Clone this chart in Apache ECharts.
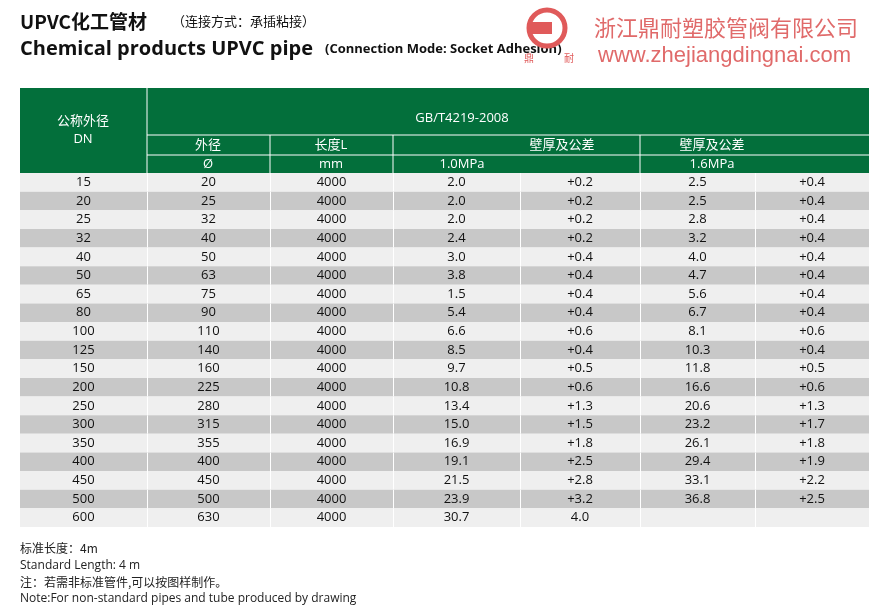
<!DOCTYPE html>
<html><head><meta charset="utf-8">
<script src="https://cdn.jsdelivr.net/npm/echarts@6/dist/echarts.min.js"></script>
<style>html,body{margin:0;padding:0;background:#fff}#c{width:882px;height:611px}</style>
</head><body><div id="c"></div>
<script>
const dn  = ['15','20','25','32','40','50','65','80','100','125','150','200','250','300','350','400','450','500','600'];
const od  = ['20','25','32','40','50','63','75','90','110','140','160','225','280','315','355','400','450','500','630'];
const len = ['4000','4000','4000','4000','4000','4000','4000','4000','4000','4000','4000','4000','4000','4000','4000','4000','4000','4000','4000'];
const wall10 = ['2.0','2.0','2.0','2.4','3.0','3.8','1.5','5.4','6.6','8.5','9.7','10.8','13.4','15.0','16.9','19.1','21.5','23.9','30.7'];
const tol10  = ['+0.2','+0.2','+0.2','+0.2','+0.4','+0.4','+0.4','+0.4','+0.6','+0.4','+0.5','+0.6','+1.3','+1.5','+1.8','+2.5','+2.8','+3.2','4.0'];
const wall16 = ['2.5','2.5','2.8','3.2','4.0','4.7','5.6','6.7','8.1','10.3','11.8','16.6','20.6','23.2','26.1','29.4','33.1','36.8',''];
const tol16  = ['+0.4','+0.4','+0.4','+0.4','+0.4','+0.4','+0.4','+0.4','+0.6','+0.4','+0.5','+0.6','+1.3','+1.7','+1.8','+1.9','+2.2','+2.5',''];

const edges = [0,127,250,373,500,620,735,849]; // column edges relative to table left
const cols = [dn,od,len,wall10,tol10,wall16,tol16];
const G='#036f3b', F='"Open Sans","Noto Sans","Noto Sans CJK SC",sans-serif';
const chart = echarts.init(document.getElementById('c'));
function ht(x,y,t,o){return Object.assign({type:'text',x:x,y:y,style:{text:t,fill:'#fff',font:'13px '+F,align:'center',verticalAlign:'middle'}},o||{});}
const L=20;
const gr=[
 {type:'rect',shape:{x:20,y:88,width:849,height:85},style:{fill:G}},
 {type:'line',shape:{x1:147,y1:88,x2:147,y2:173},style:{stroke:'#fff',lineWidth:1}},
 {type:'line',shape:{x1:147,y1:135,x2:869,y2:135},style:{stroke:'#fff',lineWidth:1}},
 {type:'line',shape:{x1:147,y1:155,x2:869,y2:155},style:{stroke:'#fff',lineWidth:1}},
 {type:'line',shape:{x1:270,y1:135,x2:270,y2:173},style:{stroke:'#fff',lineWidth:1}},
 {type:'line',shape:{x1:393,y1:135,x2:393,y2:173},style:{stroke:'#fff',lineWidth:1}},
 {type:'line',shape:{x1:640,y1:135,x2:640,y2:173},style:{stroke:'#fff',lineWidth:1}},
 ht(83,121,'公称外径'),ht(83,139,'DN'),ht(462,118,'GB/T4219-2008'),
 ht(208,145,'外径'),ht(331,145,'长度L'),ht(562,145,'壁厚及公差'),ht(712,145,'壁厚及公差'),
 ht(208,164,'Ø'),ht(331,164,'mm'),ht(462,164,'1.0MPa'),ht(712,164,'1.6MPa'),
 {type:'text',x:20,y:12,style:{text:'UPVC化工管材',fill:'#111',font:'bold 19px "Noto Sans CJK SC","Open Sans",sans-serif'}},
 {type:'text',x:172,y:15,style:{text:'（连接方式：承插粘接）',fill:'#111',font:'13px "Noto Sans CJK SC",sans-serif'}},
 {type:'text',x:20,y:39,style:{text:'Chemical products UPVC pipe',fill:'#111',font:'bold 20px "Open Sans",sans-serif'}},
 {type:'text',x:325,y:43,style:{text:'(Connection Mode: Socket Adhesion)',fill:'#111',font:'bold 13px "Open Sans",sans-serif'}},
 {type:'circle',shape:{cx:547,cy:28,r:18},style:{fill:'none',stroke:'#e05a5a',lineWidth:5}},
 {type:'rect',shape:{x:530,y:22,width:22,height:12},style:{fill:'#e05a5a'}},
 {type:'text',x:524,y:53,style:{text:'鼎',fill:'#e05a5a',font:'10px "Noto Sans CJK SC"'}},
 {type:'text',x:564,y:53,style:{text:'耐',fill:'#e05a5a',font:'10px "Noto Sans CJK SC"'}},
 {type:'text',x:594,y:17,style:{text:'浙江鼎耐塑胶管阀有限公司',fill:'#e06a6a',font:'22px "Noto Sans CJK SC",sans-serif'}},
 {type:'text',x:598,y:45,style:{text:'www.zhejiangdingnai.com',fill:'#e06a6a',font:'22px "Liberation Sans",Arial,sans-serif'}},
 {type:'text',x:20,y:542,style:{text:'标准长度：4m',fill:'#222',font:'12px "Noto Sans CJK SC",sans-serif'}},
 {type:'text',x:20,y:560,style:{text:'Standard Length: 4 m',fill:'#222',font:'12px "Open Sans",sans-serif'}},
 {type:'text',x:20,y:576,style:{text:'注：若需非标准管件,可以按图样制作。',fill:'#222',font:'12px "Noto Sans CJK SC",sans-serif'}},
 {type:'text',x:20,y:593,style:{text:'Note:For non-standard pipes and tube produced by drawing',fill:'#222',font:'12px "Open Sans",sans-serif'}}
];
chart.setOption({
 animation:false,
 grid:{left:20,right:13,top:173,bottom:84},
 xAxis:{type:'value',min:0,max:849,show:false},
 yAxis:{type:'category',data:dn,inverse:true,show:false},
 graphic:gr,
 series:[{type:'custom',data:dn.map((d,i)=>[0,i]),
  renderItem:function(params,api){
   const i=api.value(1);
   const p=api.coord([0,i]); const sz=api.size([0,1]); const h=sz[1];
   const top=p[1]-h/2;
   const ch=[{type:'rect',shape:{x:p[0],y:top,width:849,height:h},style:{fill:i%2?'#c8c8c8':'#efefef'}}];
   for(let k=1;k<7;k++){const x=api.coord([edges[k],i])[0];
     ch.push({type:'rect',shape:{x:x,y:top,width:1,height:h},style:{fill:'#fff'}});}
   for(let k=0;k<7;k++){
     const xa=api.coord([edges[k],i])[0], xb=api.coord([edges[k+1],i])[0];
     ch.push({type:'text',x:(xa+xb)/2,y:p[1],style:{text:cols[k][i],fill:'#111',font:'13px '+F,align:'center',verticalAlign:'middle'}});
   }
   return {type:'group',children:ch};
  }}]
});
</script></body></html>
